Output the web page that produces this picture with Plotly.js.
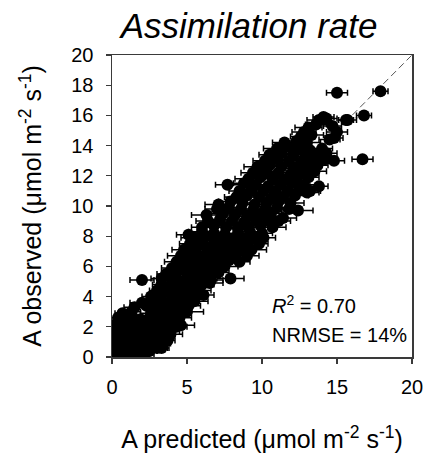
<!DOCTYPE html>
<html>
<head>
<meta charset="utf-8">
<script src="https://cdn.plot.ly/plotly-3.0.1.min.js"></script>
<style>html,body{margin:0;padding:0;background:#fff;}#chart{width:423px;height:453px;}</style>
</head>
<body>
<div id="chart"></div>
<script>
// A predicted (x), A observed (y), and the horizontal error (± on predicted)
var predicted = [
  0.2,0.6,1.0,1.4,1.8,2.2,
  0.1,0.5,0.9,1.3,1.7,2.1,2.5,3.0,
  0.3,0.7,1.1,1.6,2.0,2.4,2.9,3.3,
  0.1,0.5,0.9,1.3,1.8,2.2,2.7,3.2,3.7,
  0.3,0.8,1.2,1.6,2.0,2.5,3.0,3.5,3.9,
  0.2,0.6,1.1,1.5,2.0,2.4,2.9,3.4,3.9,4.3,
  0.3,0.8,1.2,1.7,2.2,2.7,3.1,3.6,4.1,4.6,
  0.4,0.9,1.4,1.9,2.5,3.0,3.5,4.0,4.5,
  0.7,1.3,2.6,3.4,4.1,5.0,
  1.5,2.3,3.0,3.7,4.4,5.1,
  2.0,2.8,3.5,4.2,4.9,5.5,
  2.6,3.3,4.0,4.7,5.4,6.1,
  3.0,3.7,4.4,5.1,5.8,
  3.3,4.0,4.7,5.3,6.0,6.5,
  2.0,3.3,4.0,4.6,5.3,6.0,6.6,
  3.6,4.3,5.0,5.7,6.4,7.1,7.9,
  4.0,4.7,5.4,6.1,6.8,7.5,
  4.3,5.0,5.7,6.4,7.1,7.8,8.5,
  4.6,5.4,6.1,6.8,7.5,8.2,9.0,
  4.8,5.6,6.4,7.1,7.8,8.6,9.3,
  5.2,6.0,6.8,7.5,8.3,9.0,9.8,
  5.5,6.3,7.1,7.8,8.6,9.4,10.1,
  5.1,6.0,6.8,7.5,8.4,9.2,10.0,
  6.0,6.8,7.6,8.4,9.1,9.9,10.7,
  6.4,7.2,8.0,8.8,9.6,10.4,11.1,
  6.3,7.4,8.2,9.0,9.8,10.6,11.4,
  7.0,7.8,8.6,9.4,10.2,11.0,11.8,12.4,
  7.1,7.9,8.7,9.5,10.3,11.1,11.9,
  8.3,9.0,9.8,10.6,11.4,12.2,13.0,
  8.5,9.3,10.1,10.9,11.7,12.5,13.2,
  7.7,8.8,9.6,10.4,11.2,12.0,12.8,13.8,
  9.1,9.9,10.7,11.5,12.3,13.1,
  9.4,10.3,11.1,11.9,12.7,13.5,
  9.7,10.5,11.3,12.1,12.9,13.7,
  10.2,11.0,11.8,12.6,13.4,14.2,14.8,16.7,
  10.5,11.3,12.1,12.9,13.7,14.3,
  11.0,11.8,12.5,13.2,14.0,
  11.5,12.3,13.0,14.5,
  12.6,13.3,14.8,
  12.8,15.0,15.7,
  13.1,13.6,14.7,
  13.8,14.3,15.6,
  14.1,16.8,
  15.0,17.9
];
var observed = [
  0.1,0.0,0.1,0.2,0.1,0.2,
  0.4,0.5,0.4,0.3,0.4,0.5,0.4,0.6,
  0.7,0.8,0.7,0.6,0.7,0.8,0.7,0.6,
  1.0,0.9,1.0,1.1,1.0,1.2,1.0,0.9,1.1,
  1.4,1.3,1.4,1.5,1.4,1.6,1.4,1.3,1.5,
  1.8,1.9,1.8,1.7,1.8,2.0,1.8,1.9,1.7,2.0,
  2.2,2.3,2.2,2.1,2.2,2.3,2.2,2.4,2.2,2.1,
  2.6,2.7,2.6,2.5,2.6,2.8,2.6,2.7,2.6,
  2.9,3.0,2.9,3.0,2.9,3.0,
  3.3,3.4,3.3,3.2,3.3,3.4,
  3.6,3.7,3.6,3.5,3.6,3.7,
  4.0,4.1,4.0,3.9,4.0,4.1,
  4.4,4.5,4.4,4.3,4.4,
  4.8,4.9,4.8,4.7,4.8,4.9,
  5.1,5.2,5.1,5.0,5.1,5.2,5.1,
  5.5,5.6,5.5,5.4,5.5,5.6,5.2,
  5.9,6.0,5.9,5.8,5.9,6.0,
  6.3,6.4,6.3,6.2,6.3,6.4,6.3,
  6.7,6.8,6.7,6.6,6.7,6.8,6.7,
  7.1,7.2,7.1,7.0,7.1,7.2,7.1,
  7.5,7.6,7.5,7.4,7.5,7.6,7.5,
  7.9,8.0,7.9,7.8,7.9,8.0,7.9,
  8.1,8.3,8.2,8.1,8.2,8.3,8.2,
  8.6,8.7,8.6,8.5,8.6,8.7,8.6,
  9.0,9.1,9.0,8.9,9.0,9.1,9.0,
  9.4,9.5,9.4,9.3,9.4,9.5,9.2,
  9.8,9.9,9.8,9.7,9.8,9.9,9.8,9.7,
  10.1,10.3,10.2,10.1,10.2,10.3,10.2,
  10.6,10.7,10.6,10.5,10.6,10.7,10.9,
  11.0,11.1,11.0,10.9,11.0,11.1,11.0,
  11.4,11.5,11.4,11.3,11.4,11.5,11.4,11.3,
  11.8,11.9,11.8,11.7,11.8,11.9,
  12.2,12.3,12.2,12.1,12.2,12.3,
  12.6,12.7,12.6,12.5,12.6,12.7,
  13.0,13.1,13.0,12.9,13.0,13.1,13.0,13.1,
  13.4,13.5,13.4,13.3,13.4,13.5,
  13.8,13.9,13.8,13.7,13.8,
  14.2,14.3,14.2,14.4,
  14.6,14.7,14.5,
  14.9,14.9,15.7,
  15.2,15.4,15.3,
  15.7,15.8,15.7,
  15.9,16.0,
  17.5,17.6
];
var errPredicted = [
  0.3,0.4,0.3,0.5,0.4,0.6,
  0.2,0.3,0.5,0.4,0.3,0.6,0.5,0.7,
  0.3,0.4,0.3,0.6,0.5,0.4,0.6,0.5,
  0.4,0.3,0.5,0.4,0.6,0.5,0.4,0.7,0.5,
  0.3,0.5,0.4,0.3,0.6,0.4,0.5,0.6,0.8,
  0.4,0.3,0.5,0.6,0.4,0.5,0.7,0.5,0.6,0.7,
  0.5,0.4,0.6,0.3,0.5,0.4,0.6,0.5,0.7,0.9,
  0.6,0.5,0.4,0.6,0.5,0.7,0.4,0.6,0.8,
  0.5,0.6,0.7,0.5,0.6,1.1,
  0.7,0.5,0.6,0.5,0.7,0.8,
  0.8,0.6,0.5,0.7,0.6,0.9,
  0.6,0.7,0.5,0.6,0.8,0.7,
  0.5,0.6,0.7,0.5,0.8,
  0.6,0.5,0.7,0.6,0.8,0.9,
  0.8,0.7,0.6,0.5,0.7,0.6,0.8,
  0.6,0.7,0.5,0.8,0.6,0.7,0.9,
  0.7,0.6,0.8,0.5,0.7,0.9,
  0.8,0.6,0.7,0.9,0.6,0.8,0.7,
  0.9,0.7,0.6,0.8,0.7,0.9,0.8,
  0.8,0.7,0.9,0.6,0.8,0.7,1.0,
  0.7,0.8,0.6,0.9,0.7,0.8,0.6,
  0.9,0.7,0.8,0.6,0.9,0.7,0.8,
  0.8,0.9,0.7,0.8,0.6,0.9,0.7,
  0.7,0.8,0.9,0.7,0.8,0.6,0.9,
  0.8,0.7,0.9,0.8,0.7,0.9,0.8,
  1.0,0.8,0.7,0.9,0.8,0.7,0.9,
  0.8,0.9,0.7,0.8,0.9,0.7,0.8,1.0,
  0.9,0.8,0.7,0.9,0.8,0.7,0.9,
  0.8,0.7,0.9,0.8,0.7,0.9,0.8,
  0.7,0.9,0.8,0.7,0.9,0.8,0.7,
  0.8,0.7,0.8,0.9,0.7,0.8,0.9,0.6,
  0.9,0.8,0.7,0.8,0.9,0.7,
  0.8,0.7,0.9,0.8,0.7,0.8,
  0.9,0.8,0.7,0.8,0.9,0.7,
  0.8,0.7,0.9,0.8,0.7,0.8,0.7,0.7,
  0.7,0.8,0.9,0.7,0.8,0.7,
  0.9,0.8,0.7,0.8,0.7,
  0.8,0.7,0.9,0.7,
  0.7,0.8,0.6,
  0.8,0.7,0.6,
  0.9,0.7,0.6,
  0.8,0.7,0.5,
  0.7,0.5,
  0.7,0.5
];
var oneToOne = [0, 20];
var xTicks = [0, 5, 10, 15, 20];
var yTicks = [0, 2, 4, 6, 8, 10, 12, 14, 16, 18, 20];
var titleText = '<i>Assimilation rate</i>';
var xTitle = 'A predicted (\u03bcmol m<sup>-2</sup> s<sup>-1</sup>)';
var yTitle = 'A observed (\u03bcmol m<sup>-2</sup> s<sup>-1</sup>)';
var statR2 = '<i>R</i><sup>2</sup> = 0.70';
var statNRMSE = 'NRMSE = 14%';

var FONT = 'Liberation Sans, Arial, sans-serif';

var traces = [
  {
    x: oneToOne, y: oneToOne, mode: 'lines', type: 'scatter',
    line: {color: '#555555', width: 1, dash: '7px,4px'},
    hoverinfo: 'skip', showlegend: false
  },
  {
    x: predicted, y: observed, mode: 'markers', type: 'scatter',
    marker: {color: '#000000', size: 12, line: {width: 0}},
    error_x: {type: 'data', array: errPredicted, visible: true, color: '#000000', thickness: 1.5, width: 3},
    showlegend: false
  }
];

var axisCommon = {
  showgrid: false, zeroline: false, showline: true, mirror: true,
  linecolor: '#3a3a3a', linewidth: 1.5,
  ticks: 'outside', ticklen: 5, tickwidth: 1.2, tickcolor: '#3a3a3a',
  tickfont: {family: FONT, size: 20, color: '#000000'},
  tickmode: 'array', ticklabeloverflow: 'allow'
};

var layout = {
  width: 423, height: 453,
  margin: {l: 112, r: 11, t: 55, b: 96},
  paper_bgcolor: '#ffffff', plot_bgcolor: '#ffffff',
  showlegend: false,
  font: {family: FONT, color: '#000000'},
  title: {
    text: titleText, font: {family: FONT, size: 35, color: '#000000'},
    xref: 'container', yref: 'container', x: 0.589, y: 0.943,
    xanchor: 'center', yanchor: 'middle'
  },
  xaxis: Object.assign({}, axisCommon, {
    range: [0, 20], tickvals: xTicks, ticktext: xTicks.map(String),
    ticklabelstandoff: 6,
    title: {text: xTitle, font: {family: FONT, size: 25, color: '#000000'}, standoff: 39}
  }),
  yaxis: Object.assign({}, axisCommon, {
    range: [0, 20], tickvals: yTicks, ticktext: yTicks.map(String),
    ticklabelstandoff: 8,
    title: {text: yTitle, font: {family: FONT, size: 25, color: '#000000'}, standoff: 22}
  }),
  annotations: [
    {text: statR2, xref: 'x', yref: 'y', x: 10.55, y: 3.5, xanchor: 'left', yanchor: 'middle',
     showarrow: false, font: {family: FONT, size: 20, color: '#000000'}},
    {text: statNRMSE, xref: 'x', yref: 'y', x: 10.55, y: 1.47, xanchor: 'left', yanchor: 'middle',
     showarrow: false, font: {family: FONT, size: 20, color: '#000000'}}
  ]
};

Plotly.newPlot('chart', traces, layout, {displayModeBar: false, staticPlot: true});
</script>
</body>
</html>
